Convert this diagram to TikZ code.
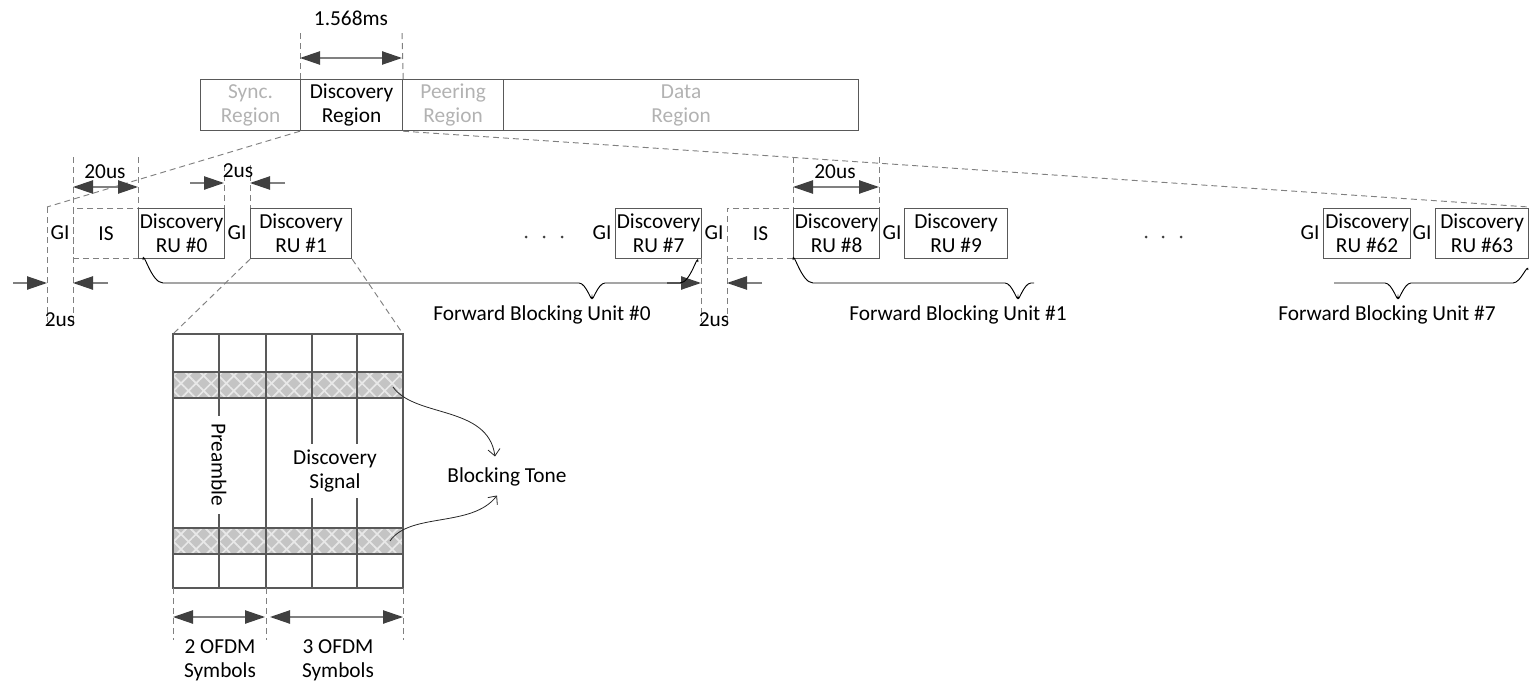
\documentclass[tikz,border=0pt]{standalone}
\usepackage{fontspec}
\setmainfont{Carlito}
\usetikzlibrary{arrows.meta,patterns.meta,calc}

\definecolor{boxline}{RGB}{89,89,89}
\definecolor{dashline}{RGB}{128,128,128}
\definecolor{dimline}{RGB}{128,128,128}
\definecolor{dimhead}{RGB}{64,64,64}
\definecolor{fadetext}{RGB}{178,178,178}
\definecolor{tonefill}{RGB}{196,196,196}
\definecolor{tonehatch}{RGB}{232,232,232}

\tikzset{
  txt/.style={inner sep=0.75pt, align=center, font=\fontsize{16}{18}\selectfont},
  region/.style={txt, draw=boxline, line width=0.9pt, anchor=north west, minimum height=38.25pt, inner sep=0pt},
  ru/.style={txt, draw=boxline, line width=0.9pt, anchor=north west, minimum height=37.5pt, inner sep=0pt},
  isbox/.style={ru, draw=dashline, line width=0.7pt, dash pattern=on 4.5pt off 3pt},
  guide/.style={draw=dashline, line width=0.7pt, dash pattern=on 4.5pt off 3pt},
  dim/.style={draw=dimline, line width=1pt, arrows={Triangle[length=15pt,width=10pt,color=dimhead]-Triangle[length=15pt,width=10pt,color=dimhead]}},
  halfdim/.style={draw=dimline, line width=1pt, arrows={-Triangle[length=15pt,width=10pt,color=dimhead]}},
  fbu/.style={draw=black, line width=0.7pt},
  gridline/.style={draw=boxline, line width=0.9pt},
  tonearrow/.style={draw=black!85, line width=0.6pt, arrows={-Straight Barb[length=5pt,width=9pt]}},
}

\begin{document}
\begin{tikzpicture}[x=0.75pt,y=0.75pt,yscale=-1,xscale=1]
\useasboundingbox (0,0) rectangle (1529,685);

%Shape: Frame regions
\node[region, minimum width=75pt, text=fadetext] (sync) at (200,79) {Sync.\\Region};
\node[region, minimum width=76.5pt] (disc) at (300,79) {Discovery\\Region};
\node[region, minimum width=75.75pt, text=fadetext] (peer) at (402,79) {Peering\\Region};
\node[region, minimum width=266.25pt, text=fadetext] (data) at (503,79) {Data\\Region};

% Discovery region length
\draw[guide] (disc.north west) -- (300,32);
\draw[guide] (disc.north east) -- (402,32);
\draw[dim] (300,58) -- (402,58);
% Text Node
\node[txt] (span) at (351,18) {1.568ms};

% zoom of the discovery region
\coordinate (zl) at (47,207);
\coordinate (zr) at (1529,207);
\draw[guide] (disc.south west) -- (zl);
\draw[guide] (disc.south east) -- (zr);

%Shape: Discovery RUs
\node[isbox, minimum width=48.75pt] (is0) at (73,208) {IS};
\node[ru, minimum width=64.5pt] (ru0) at (138,208) {Discovery\\RU \#0};
\node[ru, minimum width=75.75pt] (ru1) at (250,208) {Discovery\\RU \#1};
\node[ru, minimum width=64.5pt] (ru7) at (615,208) {Discovery\\RU \#7};
\node[isbox, minimum width=49.5pt] (is1) at (727,208) {IS};
\node[ru, minimum width=64.5pt] (ru8) at (793,208) {Discovery\\RU \#8};
\node[ru, minimum width=77.25pt] (ru9) at (904,208) {Discovery\\RU \#9};
\node[ru, minimum width=65.25pt] (ru62) at (1323,208) {Discovery\\RU \#62};
\node[ru, minimum width=69.75pt] (ru63) at (1435,208) {Discovery\\RU \#63};

% Text Node
\node[txt] (gi0) at (60,233) {GI};
\node[txt] (gi1) at (237,233) {GI};
\node[txt] (gi7) at (602,233) {GI};
\node[txt] (gi7b) at (714,233) {GI};
\node[txt] (gi9) at (892,233) {GI};
\node[txt] (gi62) at (1310,233) {GI};
\node[txt] (gi63) at (1422,233) {GI};

% dots
\foreach \x in {526,544,562,1146,1163,1181}
  \fill[black!75] (\x,237) circle (1.5);

% guides
\draw[guide] (zl) -- (47,322);
\draw[guide] (73,157) -- (73,322);
\draw[guide] (138,157) -- (138,208);
\draw[guide] (224,165) -- (224,208);
\draw[guide] (250,165) -- (250,208);
\draw[guide] (701,258) -- (701,322);
\draw[guide] (727,258) -- (727,322);
\draw[guide] (793,157) -- (793,208);
\draw[guide] (879,157) -- (879,208);

% IS and GI lengths
\draw[dim] (73,187) -- (138,187);
\node[txt] (is0len) at (105,172) {20us};
\draw[halfdim] (190,183) -- (224,183);
\draw[halfdim] (285,183) -- (250,183);
\node[txt] (gi1len) at (238,171) {2us};
\draw[halfdim] (13,283) -- (47,283);
\draw[halfdim] (108,283) -- (73,283);
\node[txt] (gi0len) at (60,320) {2us};
\draw[halfdim] (667,283) -- (701,283);
\draw[halfdim] (762,283) -- (727,283);
\node[txt] (gi7len) at (714,320) {2us};
\draw[dim] (793,187) -- (879,187);
\node[txt] (ru8len) at (835,172) {20us};

% Forward blocking units
\draw[fbu] (143,260) to[out=-90,in=180] (163,283) -- (579,283) to[out=0,in=90] (592,297)
  to[out=90,in=180] (605,283) -- (680,283) to[out=0,in=-90] (698,262);
\draw[fbu] (793,260) to[out=-90,in=180] (813,283) -- (1005,283) to[out=0,in=90] (1018,297)
  to[out=90,in=180] (1031,283) -- (1034,283);
\draw[fbu] (1334,283) -- (1385,283) to[out=0,in=90] (1398,297)
  to[out=90,in=180] (1411,283) -- (1513,283) to[out=0,in=-90] (1528,270);
\node[txt] (fbu0) at (542,315) {Forward Blocking Unit \#0};
\node[txt] (fbu1) at (958,315) {Forward Blocking Unit \#1};
\node[txt] (fbu7) at (1387,315) {Forward Blocking Unit \#7};

% zoom of RU #1
\draw[guide] (ru1.south west) -- (173,334);
\draw[guide] (ru1.south east) -- (403,334);

%Shape: blocking tone bands
\fill[tonefill] (173,372) rectangle (403,398);
\fill[tonefill] (173,528) rectangle (403,554);
\fill[pattern={Lines[angle=45,distance=8pt,line width=1.3pt]}, pattern color=tonehatch] (173,372) rectangle (403,398);
\fill[pattern={Lines[angle=-45,distance=8pt,line width=1.3pt]}, pattern color=tonehatch] (173,372) rectangle (403,398);
\fill[pattern={Lines[angle=45,distance=8pt,line width=1.3pt]}, pattern color=tonehatch] (173,528) rectangle (403,554);
\fill[pattern={Lines[angle=-45,distance=8pt,line width=1.3pt]}, pattern color=tonehatch] (173,528) rectangle (403,554);

%Shape: OFDM grid
\draw[gridline] (173,334) rectangle (403,588);
\draw[gridline] (219,334) -- (219,588);
\draw[gridline] (266,334) -- (266,588);
\draw[gridline] (312,334) -- (312,588);
\draw[gridline] (357,334) -- (357,588);
\draw[gridline] (173,372) -- (403,372);
\draw[gridline] (173,398) -- (403,398);
\draw[gridline] (173,528) -- (403,528);
\draw[gridline] (173,554) -- (403,554);

% Text Node
\node[txt, fill=white, rotate=-90, inner sep=6pt] (pre) at (219,465) {Preamble};
\node[txt, fill=white, inner sep=4pt] (sig) at (335,471) {Discovery\\Signal};
\node[txt] (tone) at (507,477) {Blocking Tone};

% blocking tone arrows
\coordinate (b1) at (393,387);
\coordinate (b2) at (390,541);
\draw[tonearrow] (b1) .. controls (415,418) and (488,405) .. ($(tone.north)+(-12,-10)$);
\draw[tonearrow] (b2) .. controls (410,512) and (472,528) .. ($(tone.south)+(-10,8)$);

% OFDM symbol lengths
\draw[guide] (173,588) -- (173,640);
\draw[guide] (266,588) -- (266,640);
\draw[guide] (403,588) -- (403,640);
\draw[dim] (173,617) -- (265,617);
\draw[dim] (270,617) -- (403,617);
\node[txt] (pre2) at (220,660) {2 OFDM\\Symbols};
\node[txt] (sig3) at (338,660) {3 OFDM\\Symbols};

\end{tikzpicture}
\end{document}
